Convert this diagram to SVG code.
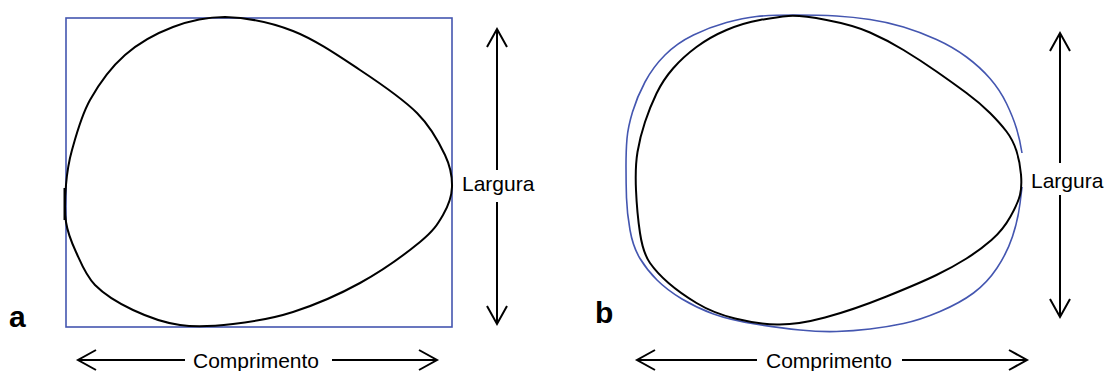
<svg xmlns="http://www.w3.org/2000/svg" width="1104" height="371" viewBox="0 0 1104 371">
<style>
.blk{fill:none;stroke:#000;stroke-width:2;stroke-linejoin:round}
.blu{fill:none;stroke:#4456b0;stroke-width:1.6}
.arr{fill:none;stroke:#000;stroke-width:2}
.lbl{font-family:"Liberation Sans",Arial,sans-serif;font-size:21px;fill:#000}
.pan{font-family:"Liberation Sans",Arial,sans-serif;font-size:30px;font-weight:bold;fill:#000}
</style>
<defs>
<marker id="chev" viewBox="-20 -12 23 24" markerWidth="23" markerHeight="24" refX="0" refY="0" markerUnits="userSpaceOnUse" orient="auto-start-reverse">
<path d="M-18,-10 L0,0 L-18,10" fill="none" stroke="#000" stroke-width="2"/>
</marker>
</defs>
<rect width="1104" height="371" fill="#fff"/>
<g id="panel-a">
<rect x="66" y="18" width="386" height="309" class="blu"/>
<path class="blk" d="M225,17 C245,17.67 270.5,22.17 293,31 C315.5,39.83 339.33,56.33 360,70 C380.67,83.67 402.83,98.83 417,113 C431.17,127.17 439.17,142.67 445,155 C450.83,167.33 452.33,177 452,187 C451.67,197 448.33,205.83 443,215 C437.67,224.17 433.83,230.67 420,242 C406.17,253.33 381.17,271.33 360,283 C338.83,294.67 314.17,305.17 293,312 C271.83,318.83 251.83,321.83 233,324 C214.17,326.17 196.67,327.33 180,325 C163.33,322.67 147.17,316.67 133,310 C118.83,303.33 104.5,294.67 95,285 C85.5,275.33 80.83,262.5 76,252 C71.17,241.5 67.67,233.17 66,222 C64.33,210.83 65,197 66,185 C67,173 68,164.17 72,150 C76,135.83 81.17,115.83 90,100 C98.83,84.17 111.17,67.17 125,55 C138.83,42.83 156.33,33.33 173,27 C189.67,20.67 205,17 225,17 Z"/>
<line x1="64.5" y1="188" x2="64.5" y2="220" stroke="#000" stroke-width="2"/>
<text class="pan" x="9" y="327">a</text>
</g>
<g id="panel-b">
<path class="blu" d="M1022,187 L1020,203.5 Q1018,220 1012.5,236.5 Q1007,253 997,268 Q987,283 973.5,293 Q960,303 940,311.5 Q920,320 903.5,323.5 Q887,327 870,329 Q853,331 836.5,331.5 Q820,332 800,330 Q780,328 755,324 Q730,320 713.5,314 Q697,308 682,299 Q667,290 657,280 Q647,270 640,258.5 Q633,247 630,230 Q627,213 626.5,198 Q626,183 626,166.5 Q626,150 627,138.5 Q628,127 632.5,112 Q637,97 645,82 Q653,67 665,55 Q677,43 693.5,35 Q710,27 726.5,22.5 Q743,18 756.5,16.5 Q770,15 795,15 Q820,15 836.5,16 Q853,17 870,19.5 Q887,22 903.5,27 Q920,32 936.5,39.5 Q953,47 966.5,57 Q980,67 990,78.5 Q1000,90 1006.5,103.5 Q1013,117 1016.5,128.5 Q1020,140 1022,153"/>
<path class="blk" d="M788.5,16 Q800,15 826.5,20 Q853,25 870,32.5 Q887,40 903.5,50 Q920,60 936.5,71.5 Q953,83 966.5,93 Q980,103 990,113 Q1000,123 1006.5,131.5 Q1013,140 1016.5,151 Q1020,162 1021,174.5 Q1022,187 1020,195 Q1018,203 1010.5,216.5 Q1003,230 991.5,240 Q980,250 966.5,258.5 Q953,267 936.5,275 Q920,283 886.5,296.5 Q853,310 825,317.5 Q797,325 777,324.5 Q757,324 735,318.5 Q713,313 696.5,303 Q680,293 668.5,283 Q657,273 650,263 Q643,253 640,233 Q637,213 636,190 Q635,167 637.5,152 Q640,137 645,122 Q650,107 656.5,93.5 Q663,80 673,68.5 Q683,57 696.5,47 Q710,37 726.5,30 Q743,23 760,20 Q777,17 788.5,16 Z"/>
<text class="pan" x="595" y="323">b</text>
</g>
<g id="connectors">
<line class="arr" x1="497" y1="29" x2="497" y2="170" marker-start="url(#chev)"/>
<line class="arr" x1="497" y1="202" x2="497" y2="324" marker-end="url(#chev)"/>
<line class="arr" x1="78" y1="360" x2="185" y2="360" marker-start="url(#chev)"/>
<line class="arr" x1="332" y1="360" x2="437" y2="360" marker-end="url(#chev)"/>
<line class="arr" x1="1060" y1="33" x2="1060" y2="163" marker-start="url(#chev)"/>
<line class="arr" x1="1060" y1="195" x2="1060" y2="317" marker-end="url(#chev)"/>
<line class="arr" x1="637" y1="360" x2="757" y2="360" marker-start="url(#chev)"/>
<line class="arr" x1="902" y1="360" x2="1027" y2="360" marker-end="url(#chev)"/>
</g>
<g id="labels">
<text class="lbl" x="462" y="191">Largura</text>
<text class="lbl" x="193" y="368">Comprimento</text>
<text class="lbl" x="1031" y="188">Largura</text>
<text class="lbl" x="766" y="368">Comprimento</text>
</g>
</svg>
